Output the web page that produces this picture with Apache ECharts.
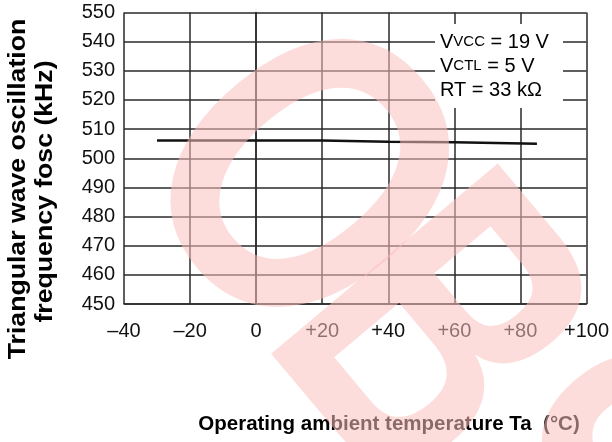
<!DOCTYPE html>
<html>
<head>
<meta charset="utf-8">
<script src="https://cdn.jsdelivr.net/npm/echarts@6/dist/echarts.min.js"></script>
<style>
html,body{margin:0;padding:0;background:#fff;}
#chart{width:612px;height:442px;}
</style>
</head>
<body>
<div id="chart"></div>
<script>
// ---- data ----
const temps = [-30, -20, 0, 20, 40, 60, 85];
const fosc = [506.1, 506.1, 506.1, 506.1, 505.7, 505.5, 505.0];
const xTickLabels = ['\u201340', '\u201320', '0', '+20', '+40', '+60', '+80', '+100'];
const yTickLabels = ['450', '460', '470', '480', '490', '500', '510', '520', '530', '540', '550'];
const xMin = -40, xMax = 100, xStep = 20;
const yMin = 450, yMax = 550, yStep = 10;
const condLines = [
  ['V', 'VCC', ' = 19 V'],
  ['V', 'CTL', ' = 5 V'],
  ['RT = 33 k\u03a9', '', '']
];
const yTitle = ['Triangular wave oscillation', 'frequency fosc (kHz)'];
const xTitle = 'Operating ambient temperature Ta\u00a0 (\u00b0C)';
const watermarkHead = 'O';
const watermarkTail = 'BSOLETE';

const FONT = '"Liberation Sans", Arial, Helvetica, sans-serif';
const chart = echarts.init(document.getElementById('chart'), null, {renderer: 'canvas'});

const seriesData = temps.map((t, i) => [t, fosc[i]]);

const condRich = {
  big: {fontSize: 20, fontFamily: FONT, color: '#111'},
  sub: {fontSize: 15, fontFamily: FONT, color: '#111'}
};
const condText = condLines.map(l => '{big|' + l[0] + '}' + (l[1] ? '{sub|' + l[1] + '}' : '') + (l[2] ? '{big|' + l[2] + '}' : '')).join('\n');

const WM_ROT = -50 * Math.PI / 180;
const WM_FILL = 'rgba(251,191,191,0.55)';

const option = {
  animation: false,
  backgroundColor: '#fff',
  grid: {left: 124, right: 25, top: 12.5, bottom: 138, containLabel: false},
  xAxis: {
    type: 'value', min: xMin, max: xMax, interval: xStep,
    axisLine: {show: true, onZero: false, lineStyle: {color: '#2a2a2a', width: 1.5}},
    axisTick: {show: false},
    splitLine: {show: true, lineStyle: {color: '#2a2a2a', width: 1.5}},
    axisLabel: {
      margin: 17, fontSize: 20, fontFamily: FONT, color: '#111',
      formatter: v => xTickLabels[Math.round((v - xMin) / xStep)]
    }
  },
  yAxis: {
    type: 'value', min: yMin, max: yMax, interval: yStep,
    axisLine: {show: true, lineStyle: {color: '#2a2a2a', width: 1.5}},
    axisTick: {show: false},
    splitLine: {show: true, lineStyle: {color: '#2a2a2a', width: 1.5}},
    axisLabel: {
      margin: 9, fontSize: 20, fontFamily: FONT, color: '#111',
      formatter: v => yTickLabels[Math.round((v - yMin) / yStep)]
    }
  },
  series: [{
    type: 'line', data: seriesData, showSymbol: false, symbol: 'none',
    lineStyle: {color: '#111', width: 2.5}, z: 5
  }],
  graphic: [
    {type: 'rect', shape: {x: 435, y: 24, width: 128, height: 84}, style: {fill: '#fff'}, z: 10, silent: true},
    {type: 'text', x: 440, y: 30, z: 11, silent: true,
      style: {text: condText, rich: condRich, lineHeight: 24, align: 'left', verticalAlign: 'top'}},
    {type: 'text', x: 18, y: 189, rotation: Math.PI / 2, scaleX: 1.11, z: 11, silent: true,
      style: {text: yTitle[0], font: 'bold 24px ' + FONT, fill: '#000', align: 'center', verticalAlign: 'middle'}},
    {type: 'text', x: 45, y: 191.5, rotation: Math.PI / 2, scaleX: 1.11, z: 11, silent: true,
      style: {text: yTitle[1], font: 'bold 24px ' + FONT, fill: '#000', align: 'center', verticalAlign: 'middle'}},
    {type: 'text', x: 389, y: 424, z: 11, silent: true,
      style: {text: xTitle, font: 'bold 20.5px ' + FONT, fill: '#000', align: 'center', verticalAlign: 'middle'}},
    {type: 'text', x: 288, y: 192, rotation: WM_ROT, scaleX: 0.8, z: 100, silent: true,
      style: {text: watermarkHead, font: 'bold 415px ' + FONT, fill: WM_FILL, align: 'center', verticalAlign: 'middle'}},
    {type: 'text', x: 349, y: 262, rotation: WM_ROT, scaleX: 0.70, z: 100, silent: true,
      style: {text: watermarkTail, font: 'bold 430px ' + FONT, fill: WM_FILL, align: 'left', verticalAlign: 'middle'}}
  ]
};
chart.setOption(option);
</script>
</body>
</html>
